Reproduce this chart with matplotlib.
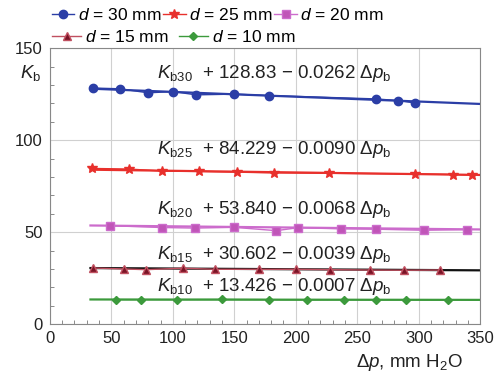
import matplotlib
matplotlib.use('Agg')
import matplotlib.pyplot as plt
from matplotlib.ticker import MultipleLocator

plt.rcParams['font.family'] = ['Liberation Sans', 'DejaVu Sans']
plt.rcParams['mathtext.fontset'] = 'custom'
plt.rcParams['mathtext.rm'] = 'Liberation Sans'
plt.rcParams['mathtext.it'] = 'Liberation Sans:italic'

# measured points (dp in mm H2O, Kb)
x30 = [35, 57, 80, 100, 119, 150, 178, 265, 283, 297]
y30 = [128.3, 127.9, 125.7, 126.4, 124.6, 125.0, 124.2, 122.4, 121.5, 120.2]
x25 = [34, 64, 91, 121, 152, 182, 227, 297, 328, 343]
y25 = [84.6, 84.3, 83.2, 83.0, 82.6, 82.2, 82.0, 81.6, 81.3, 81.0]
x20 = [49, 91, 118, 150, 184, 202, 237, 265, 304, 339]
y20 = [53.5, 52.5, 52.2, 52.6, 50.8, 52.4, 51.8, 51.6, 51.0, 51.4]
x15 = [35, 60, 78, 108, 134, 170, 200, 228, 260, 288, 317]
y15 = [30.5, 30.0, 29.6, 30.4, 29.8, 29.8, 29.8, 29.6, 29.4, 29.3, 29.4]
x10 = [54, 74, 103, 140, 178, 209, 239, 265, 290, 324]
y10 = [13.3, 13.3, 13.3, 13.4, 13.3, 13.2, 13.3, 13.2, 13.3, 13.2]

# fitted lines Kb = a - b*dp
fits = {
    '30': (128.83, 0.0262),
    '25': (84.229, 0.0090),
    '20': (53.840, 0.0068),
    '15': (30.602, 0.0039),
    '10': (13.426, 0.0007),
}
fit_start = 33
fit_end = 350

fig = plt.figure(figsize=(4.94, 3.73), dpi=100)
ax = fig.add_axes([0.101, 0.131, 0.871, 0.740])

series = [
    ('30', x30, y30, 'o', '#2b3ea6', '#2b3ea6', '#2b3ea6', 6),
    ('25', x25, y25, '*', '#e8302c', '#e8302c', '#e8302c', 7),
    ('20', x20, y20, 's', '#cc6ccc', '#c055b8', '#cc6ccc', 6),
    ('15', x15, y15, '^', '#111111', '#7a1426', '#c05060', 6),
    ('10', x10, y10, 'D', '#3c9a3c', '#3c9a3c', '#3c9a3c', 4),
]

handles = {}
for key, xs, ys, mk, lc, mfc, mec, ms in series:
    a, b = fits[key]
    ax.plot([fit_start, fit_end], [a - b * fit_start, a - b * fit_end],
            color=lc, lw=1.6, zorder=2)
    h, = ax.plot(xs, ys, marker=mk, color=mec if key == '15' else lc, lw=1.0,
                 ms=ms, mfc=mfc, mec=mec, zorder=3)
    handles[key] = h

ax.set_xlim(0, 350)
ax.set_ylim(0, 150)
ax.xaxis.set_major_locator(MultipleLocator(50))
ax.yaxis.set_major_locator(MultipleLocator(50))
ax.xaxis.set_minor_locator(MultipleLocator(10))
ax.yaxis.set_minor_locator(MultipleLocator(10))
ax.grid(True, which='major', color='#d0d0d0', lw=0.8)
ax.tick_params(which='both', direction='in', colors='#777777', labelcolor='#222222',
               labelsize=12, length=3)
ax.tick_params(which='major', length=0, pad=5)
for s in ax.spines.values():
    s.set_color('#888888')

# equation labels
eqs = [
    ('30', 136),
    ('25', 95),
    ('20', 62.5),
    ('15', 37.7),
    ('10', 20.4),
]
for key, ty in eqs:
    a, b = fits[key]
    txt = r'$K_{\mathrm{b%s}}$  + %s $-$ %.4f $\Delta p_{\mathrm{b}}$' % (
        key, ('%.3f' % a) if a < 100 else '%.2f' % a, b)
    ax.text(87, ty, txt, fontsize=13.5, va='center', ha='left', color='#222222')

fig.text(0.04, 0.79, r'$K_{\mathrm{b}}$', fontsize=13.5, color='#222222')
fig.text(0.938, 0.015, r'$\Delta p$, mm H$_2$O', fontsize=13.5, ha='right', color='#222222')

lab = lambda k: r'$d$ = %s mm' % k
leg1 = fig.legend([handles['30'], handles['25'], handles['20']],
                  [lab('30'), lab('25'), lab('20')], ncol=3,
                  loc='center left', bbox_to_anchor=(0.105, 0.96), frameon=False,
                  fontsize=12.5, handlelength=1.3, handletextpad=0.2,
                  columnspacing=0.1, borderpad=0, borderaxespad=0)
leg2 = fig.legend([handles['15'], handles['10']],
                  [lab('15'), lab('10')], ncol=2,
                  loc='center left', bbox_to_anchor=(0.105, 0.90), frameon=False,
                  fontsize=12.5, handlelength=1.7, handletextpad=0.2,
                  columnspacing=0.6, borderpad=0, borderaxespad=0)

fig.savefig('out.png', dpi=100)
